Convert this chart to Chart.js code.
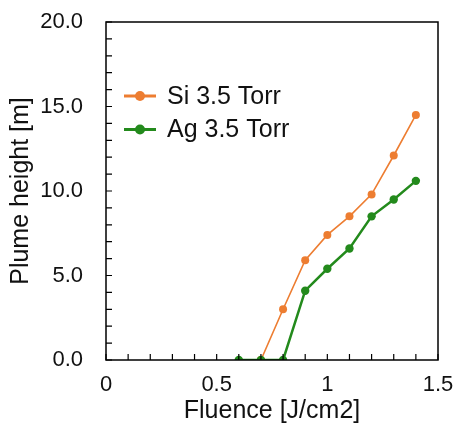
<!DOCTYPE html>
<html>
<head>
<meta charset="utf-8">
<script src="https://cdn.jsdelivr.net/npm/chart.js@4/dist/chart.umd.min.js"></script>
<style>
html,body{margin:0;padding:0;background:#fff;}
#wrap{width:456px;height:426px;position:relative;}
</style>
</head>
<body>
<div id="wrap"><canvas id="c" width="456" height="426"></canvas></div>
<script>
// Data
const siLabel = "Si 3.5 Torr";
const agLabel = "Ag 3.5 Torr";
const siFluence = [0.7, 0.8, 0.9, 1.0, 1.1, 1.2, 1.3, 1.4];
const siHeight  = [0.0, 3.0, 5.9, 7.4, 8.5, 9.8, 12.1, 14.5];
const agFluence = [0.6, 0.7, 0.8, 0.9, 1.0, 1.1, 1.2, 1.3, 1.4];
const agHeight  = [0.0, 0.0, 0.0, 4.1, 5.4, 6.6, 8.5, 9.5, 10.6];
const xTickLabels = ["0", "0.5", "1", "1.5"];
const yTickLabels = ["0.0", "5.0", "10.0", "15.0", "20.0"];
const xTitle = "Fluence [J/cm2]";
const yTitle = "Plume height [m]";

const orange = "#ED7D31";
const green = "#238A1C";
const FONT = "'Liberation Sans', Arial, sans-serif";

function pts(xs, ys){ return xs.map((x,i)=>({x:x, y:ys[i]})); }

const boxAndTicks = {
  id: 'boxAndTicks',
  afterDraw(chart){
    const {ctx, chartArea:a, scales} = chart;
    ctx.save();
    ctx.strokeStyle = '#000';
    ctx.lineWidth = 1.5;
    ctx.strokeRect(a.left, a.top, a.right-a.left, a.bottom-a.top);
    ctx.lineWidth = 1.2;
    ctx.beginPath();
    scales.x.ticks.forEach(t=>{
      const px = scales.x.getPixelForValue(t.value);
      ctx.moveTo(px, a.bottom); ctx.lineTo(px, a.bottom-6);
    });
    scales.y.ticks.forEach(t=>{
      const py = scales.y.getPixelForValue(t.value);
      ctx.moveTo(a.left, py); ctx.lineTo(a.left+6, py);
    });
    ctx.stroke();
    ctx.restore();
  }
};

const insideLegend = {
  id: 'insideLegend',
  afterDraw(chart){
    const {ctx, chartArea:a} = chart;
    const items = [chart.data.datasets[0], chart.data.datasets[1]];
    ctx.save();
    items.forEach((ds, i)=>{
      const y = a.top + 74 + i*33.5;
      const x0 = a.left + 18;
      ctx.strokeStyle = ds.borderColor;
      ctx.lineWidth = 3;
      ctx.beginPath(); ctx.moveTo(x0, y); ctx.lineTo(x0+32, y); ctx.stroke();
      ctx.fillStyle = ds.backgroundColor;
      ctx.beginPath(); ctx.arc(x0+16, y, 5, 0, Math.PI*2); ctx.fill();
      ctx.fillStyle = '#111';
      ctx.font = "25px " + FONT;
      ctx.textBaseline = 'middle';
      ctx.textAlign = 'left';
      ctx.fillText(ds.label, x0+43, y+1);
    });
    ctx.restore();
  }
};

new Chart(document.getElementById('c'), {
  type: 'line',
  data: {
    datasets: [
      {label: siLabel, data: pts(siFluence, siHeight), borderColor: orange, backgroundColor: orange,
       borderWidth: 1.6, pointRadius: 4, pointBorderWidth: 0, pointBackgroundColor: orange, order: 1},
      {label: agLabel, data: pts(agFluence, agHeight), borderColor: green, backgroundColor: green,
       borderWidth: 2.5, pointRadius: 4.2, pointBorderWidth: 0, pointBackgroundColor: green, order: 0}
    ]
  },
  options: {
    responsive: false,
    animation: false,
    layout: {padding: {top: 22, right: 18, bottom: 0, left: 0}},
    plugins: {legend: {display: false}, tooltip: {enabled: false}},
    scales: {
      x: {
        type: 'linear', min: 0, max: 1.5,
        border: {display: false},
        grid: {display: true, drawOnChartArea: false, drawTicks: false},
        ticks: {
          stepSize: 0.1, autoSkip: false, maxRotation: 0, padding: 12,
          color: '#111', font: {family: FONT, size: 22},
          callback: (v)=>{
            const k = Math.round(v*2);
            if (Math.abs(v*2 - k) < 1e-6) return xTickLabels[k];
            return '';
          }
        },
        title: {display: true, text: xTitle, color: '#111', font: {family: FONT, size: 25}, padding: {top: 0, bottom: 0}},
        afterFit: (s)=>{ s.height = 66; s.paddingLeft = 0; s.paddingRight = 0; }
      },
      y: {
        type: 'linear', min: 0, max: 20,
        border: {display: false},
        grid: {display: true, drawOnChartArea: false, drawTicks: false},
        ticks: {
          stepSize: 1, autoSkip: false, padding: 23,
          color: '#111', font: {family: FONT, size: 22},
          callback: (v)=>{
            const k = Math.round(v/5);
            if (Math.abs(v - k*5) < 1e-6) return yTickLabels[k];
            return '';
          }
        },
        title: {display: true, text: yTitle, color: '#111', font: {family: FONT, size: 25}, padding: {top: 6, bottom: 0}},
        afterFit: (s)=>{ s.width = 106; s.paddingTop = 0; s.paddingBottom = 0; }
      }
    }
  },
  plugins: [boxAndTicks, insideLegend]
});
</script>
</body>
</html>
